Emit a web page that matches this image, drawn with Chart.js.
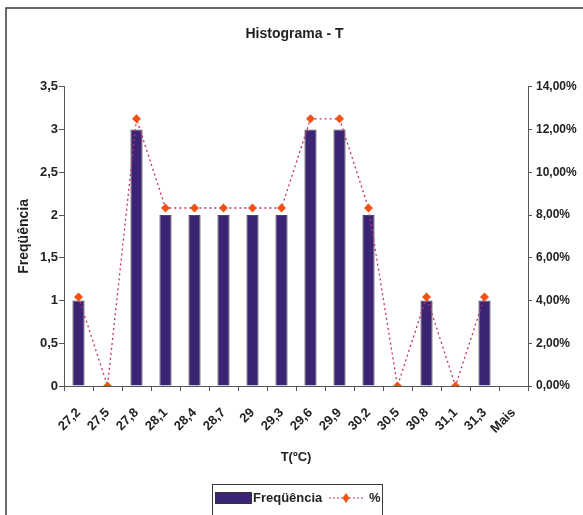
<!DOCTYPE html>
<html>
<head>
<meta charset="utf-8">
<script src="https://cdn.jsdelivr.net/npm/chart.js@4.4.1/dist/chart.umd.min.js"></script>
<style>
  html, body { margin: 0; padding: 0; background: #fff; }
  #wrap { width: 583px; height: 515px; position: relative; }
</style>
</head>
<body>
<div id="wrap"><canvas id="c" width="583" height="515"></canvas></div>
<script>
// Histogram classes (upper bin limits) and counts
const categories = ['27,2', '27,5', '27,8', '28,1', '28,4', '28,7', '29', '29,3', '29,6', '29,9', '30,2', '30,5', '30,8', '31,1', '31,3', 'Mais'];
const frequencia = [1, 0, 3, 2, 2, 2, 2, 2, 3, 3, 2, 0, 1, 0, 1, 0];
// Share of each class in percent (count / 24)
const percentual = [4.17, 0, 12.5, 8.33, 8.33, 8.33, 8.33, 8.33, 12.5, 12.5, 8.33, 0, 4.17, 0, 4.17, null];
const leftTicks = [0, 0.5, 1, 1.5, 2, 2.5, 3, 3.5];
const rightTicks = [0, 2, 4, 6, 8, 10, 12, 14];

const FONT = 'Liberation Sans, Arial, sans-serif';
const BAR_FILL = '#3b2473';
const LINE_COLOR = '#c42e6a';
const MARK_COLOR = '#f25215';
const AXIS_COLOR = '#555555';

const comma = v => String(v).replace('.', ',');

// Outer frame of the chart object
const framePlugin = {
  id: 'frame',
  beforeDraw(chart) {
    const ctx = chart.ctx;
    ctx.save();
    ctx.fillStyle = '#fff';
    ctx.fillRect(0, 0, chart.width, chart.height);
    ctx.strokeStyle = '#3a3a3a';
    ctx.lineWidth = 1.5;
    ctx.strokeRect(6, 8, chart.width + 20, chart.height + 20);
    ctx.restore();
  }
};

// Boxed legend below the axis title
const boxLegend = {
  id: 'boxLegend',
  afterDraw(chart) {
    const ctx = chart.ctx;
    const ds = chart.data.datasets;
    const bx = 212, by = 484, bw = 170, bh = 40;
    ctx.save();
    ctx.strokeStyle = '#3a3a3a';
    ctx.lineWidth = 1;
    ctx.strokeRect(bx + 0.5, by + 0.5, bw, bh);
    ctx.font = 'bold 13px ' + FONT;
    ctx.textBaseline = 'middle';
    const cy = 498;
    // bar series swatch
    ctx.fillStyle = ds[1].backgroundColor;
    ctx.fillRect(215, 492, 37, 12);
    ctx.strokeStyle = '#333';
    ctx.strokeRect(215.5, 492.5, 36, 11);
    ctx.fillStyle = '#222';
    ctx.fillText(ds[1].label, 253, cy);
    // line series swatch
    ctx.strokeStyle = ds[0].borderColor;
    ctx.lineWidth = 1.2;
    ctx.setLineDash([2, 2]);
    ctx.beginPath();
    ctx.moveTo(329, cy);
    ctx.lineTo(363, cy);
    ctx.stroke();
    ctx.setLineDash([]);
    ctx.fillStyle = ds[0].pointBackgroundColor;
    ctx.beginPath();
    ctx.moveTo(346, cy - 5);
    ctx.lineTo(349.5, cy);
    ctx.lineTo(346, cy + 5);
    ctx.lineTo(342.5, cy);
    ctx.closePath();
    ctx.fill();
    ctx.fillStyle = '#222';
    ctx.fillText(ds[0].label, 369, cy);
    ctx.restore();
  }
};

new Chart(document.getElementById('c'), {
  data: {
    labels: categories,
    datasets: [
      {
        type: 'line',
        label: '%',
        data: percentual,
        yAxisID: 'yR',
        order: 1,
        borderColor: LINE_COLOR,
        borderWidth: 1.3,
        borderDash: [2, 3],
        tension: 0,
        spanGaps: false,
        pointStyle: 'rectRot',
        pointRadius: 4.5,
        pointBackgroundColor: MARK_COLOR,
        pointBorderColor: MARK_COLOR,
        pointBorderWidth: 0
      },
      {
        type: 'bar',
        label: 'Freqüência',
        data: frequencia,
        yAxisID: 'y',
        order: 2,
        backgroundColor: BAR_FILL,
        borderColor: '#4a4a4a',
        borderWidth: 1,
        categoryPercentage: 1,
        barPercentage: 0.42
      }
    ]
  },
  options: {
    responsive: false,
    animation: false,
    events: [],
    layout: { padding: { left: 6, right: 0, top: 0, bottom: 40 } },
    plugins: {
      legend: { display: false },
      tooltip: { enabled: false },
      title: {
        display: true,
        text: 'Histograma - T',
        color: '#222',
        font: { family: FONT, size: 14, weight: 'bold' },
        padding: { top: 26, bottom: 44 }
      }
    },
    scales: {
      x: {
        type: 'category',
        grid: { display: true, drawOnChartArea: false, offset: true, tickLength: 5, color: AXIS_COLOR },
        border: { display: true, color: AXIS_COLOR, width: 1 },
        ticks: {
          color: '#222',
          font: { family: FONT, size: 13, weight: 'bold' },
          minRotation: 45,
          maxRotation: 45,
          autoSkip: false,
          padding: 14
        },
        title: {
          display: true,
          text: 'T(ºC)',
          color: '#222',
          font: { family: FONT, size: 13, weight: 'bold' },
          padding: { top: 0, bottom: 10 }
        },
        afterFit(s) { s.height = 89; }
      },
      y: {
        position: 'left',
        min: 0,
        max: 3.5,
        afterBuildTicks(s) { s.ticks = leftTicks.map(v => ({ value: v })); },
        grid: { display: true, drawOnChartArea: false, tickLength: 5, color: AXIS_COLOR },
        border: { display: true, color: AXIS_COLOR, width: 1 },
        ticks: {
          color: '#222',
          font: { family: FONT, size: 13, weight: 'bold' },
          padding: 1,
          callback: v => comma(v)
        },
        title: {
          display: true,
          text: 'Freqüência',
          color: '#222',
          font: { family: FONT, size: 14, weight: 'bold' },
          padding: { top: 10, bottom: 0 }
        },
        afterFit(s) { s.width = 58; }
      },
      yR: {
        position: 'right',
        min: 0,
        max: 14,
        afterBuildTicks(s) { s.ticks = rightTicks.map(v => ({ value: v })); },
        grid: { display: true, drawOnChartArea: false, tickLength: 4, color: AXIS_COLOR },
        border: { display: true, color: AXIS_COLOR, width: 1 },
        ticks: {
          color: '#222',
          font: { family: FONT, size: 12, weight: 'bold' },
          padding: 4,
          callback: v => v.toFixed(2).replace('.', ',') + '%'
        },
        afterFit(s) { s.width = 55; }
      }
    }
  },
  plugins: [framePlugin, boxLegend]
});
</script>
</body>
</html>
